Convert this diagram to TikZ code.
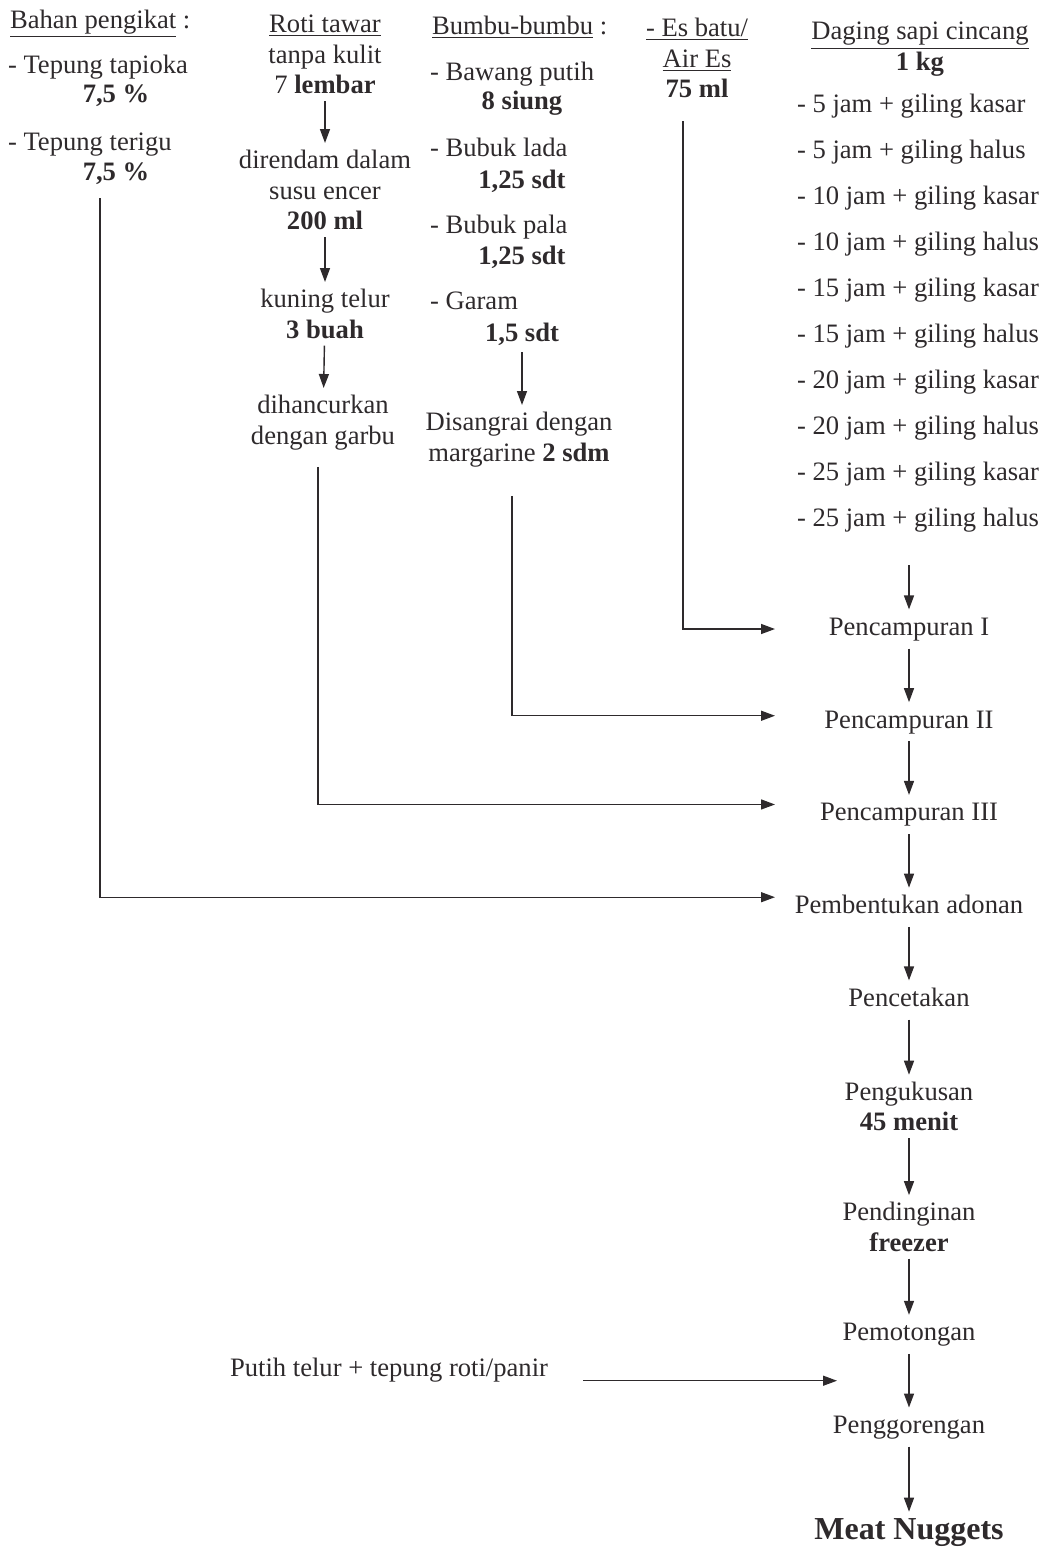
\documentclass[tikz,border=0pt]{standalone}
\usepackage{fontspec}
\setmainfont{Liberation Serif}
\usepackage{tikz}
\usetikzlibrary{positioning,calc,arrows.meta}
\definecolor{ink}{HTML}{2E2A2C}

\begin{document}
\begin{tikzpicture}[
    x=0.5pt, y=0.5pt,
    color=ink,
    node distance=26.8pt,
    font=\fontsize{13.3}{15.3}\selectfont,
    txt/.style={align=center},
    entry/.style={anchor=base west},
    qty/.style={anchor=base},
    stage/.style={text height=9.5pt, text depth=3pt},
    flow/.style={-{Triangle[length=7pt,width=5pt]}, line width=0.7pt}
  ]
    \useasboundingbox (0,0) rectangle (1051,-1548);

    \node[entry] (binder) at (3,-28) {\underline{Bahan pengikat} :};
    \node[entry] (tapioca) at (1,-73) {- Tepung tapioka};
    \node[qty] (tapiocaamt) at (116,-102) {\textbf{7,5 \%}};
    \node[entry] (wheat) at (1,-150) {- Tepung terigu};
    \node[qty] (wheatamt) at (116,-180) {\textbf{7,5 \%}};

    \node[txt, anchor=north] (bread) at (325,-8) {\underline{Roti tawar}\\tanpa kulit\\7 \textbf{lembar}};
    \node[txt, anchor=north] (soak) at (325,-143) {direndam dalam\\susu encer\\\textbf{200 ml}};
    \node[txt, anchor=north] (yolk) at (325,-282) {kuning telur\\\textbf{3 buah}};
    \node[txt, anchor=north] (mash) at (323,-388) {dihancurkan\\dengan garbu};

    \node[entry] (spice) at (425,-34) {\underline{Bumbu-bumbu} :};
    \node[entry] (garlic) at (423,-80) {- Bawang putih};
    \node[qty] (garlicamt) at (522,-109) {\textbf{8 siung}};
    \node[entry] (pepper) at (423,-156) {- Bubuk lada};
    \node[qty] (pepperamt) at (522,-188) {\textbf{1,25 sdt}};
    \node[entry] (nutmeg) at (423,-233) {- Bubuk pala};
    \node[qty] (nutmegamt) at (522,-264) {\textbf{1,25 sdt}};
    \node[entry] (salt) at (423,-309) {- Garam};
    \node[qty] (saltamt) at (522,-341) {\textbf{1,5 sdt}};
    \node[txt, anchor=north] (roast) at (519,-405) {Disangrai dengan\\margarine \textbf{2 sdm}};

    \node[txt, anchor=north] (ice) at (697,-11) {\underline{- Es batu/}\\\underline{Air Es}\\\textbf{75 ml}};

    \node[txt, anchor=north] (beef) at (920,-15) {\underline{Daging sapi cincang}\\\textbf{1 kg}};
    \node[align=left, anchor=north west] (grind) at (790,-87) {- 5 jam + giling kasar\\[7.7pt]- 5 jam + giling halus\\[7.7pt]- 10 jam + giling kasar\\[7.7pt]- 10 jam + giling halus\\[7.7pt]- 15 jam + giling kasar\\[7.7pt]- 15 jam + giling halus\\[7.7pt]- 20 jam + giling kasar\\[7.7pt]- 20 jam + giling halus\\[7.7pt]- 25 jam + giling kasar\\[7.7pt]- 25 jam + giling halus};

    \node[stage] (mix1) at (909,-629) {Pencampuran I};
    \node[stage, below=of mix1] (mix2) {Pencampuran II};
    \node[stage, below=of mix2] (mix3) {Pencampuran III};
    \node[stage, below=of mix3] (form) {Pembentukan adonan};
    \node[stage, below=of form] (mold) {Pencetakan};
    \node[txt, below=27.6pt of mold] (steam) {Pengukusan\\\textbf{45 menit}};
    \node[txt, below=28.5pt of steam] (chill) {Pendinginan\\\textbf{freezer}};
    \node[stage, below=28.1pt of chill] (cut) {Pemotongan};
    \node[stage, below=of cut] (fry) {Penggorengan};
    \node[below=32.5pt of fry, font=\fontsize{16}{19}\selectfont\bfseries] (final) {Meat Nuggets};

    \node[entry] (coat) at (223,-1376) {Putih telur + tepung roti/panir};

    \coordinate (inlet) at (775,0);
    \coordinate (coatin) at ($(cut.south)!0.5!(fry.north) + (-36pt,0)$);

    \draw[flow] (bread) -- (soak);
    \draw[flow] (soak) -- (yolk);
    \draw[flow] (yolk) -- (mash);
    \draw[flow] (saltamt.south) -- (saltamt.south |- roast.north);
    \draw[flow, shorten <=13pt] (grind.south -| mix1.north) -- (mix1);

    \draw[flow, shorten <=8pt] ([xshift=-7pt]ice.south) |- (mix1.west -| inlet);
    \draw[flow, shorten <=11pt] ([xshift=-3.5pt]roast.south) |- ($(mix2.west -| inlet) + (0,3pt)$);
    \draw[flow, shorten <=5pt] ([xshift=-2.5pt]mash.south) |- ($(mix3.west -| inlet) + (0,5pt)$);
    \draw[flow, shorten <=3.5pt] ([xshift=-8pt]wheatamt.south) |- ($(form.west -| inlet) + (0,5pt)$);

    \draw[flow] (mix1) -- (mix2);
    \draw[flow] (mix2) -- (mix3);
    \draw[flow] (mix3) -- (form);
    \draw[flow] (form) -- (mold);
    \draw[flow] (mold) -- (steam);
    \draw[flow] (steam) -- (chill);
    \draw[flow] (chill) -- (cut);
    \draw[flow] (cut) -- (fry);
    \draw[flow] (fry) -- (final);
    \draw[flow, shorten <=14pt] (coat.east |- coatin) -- (coatin);
  \end{tikzpicture}
\end{document}
